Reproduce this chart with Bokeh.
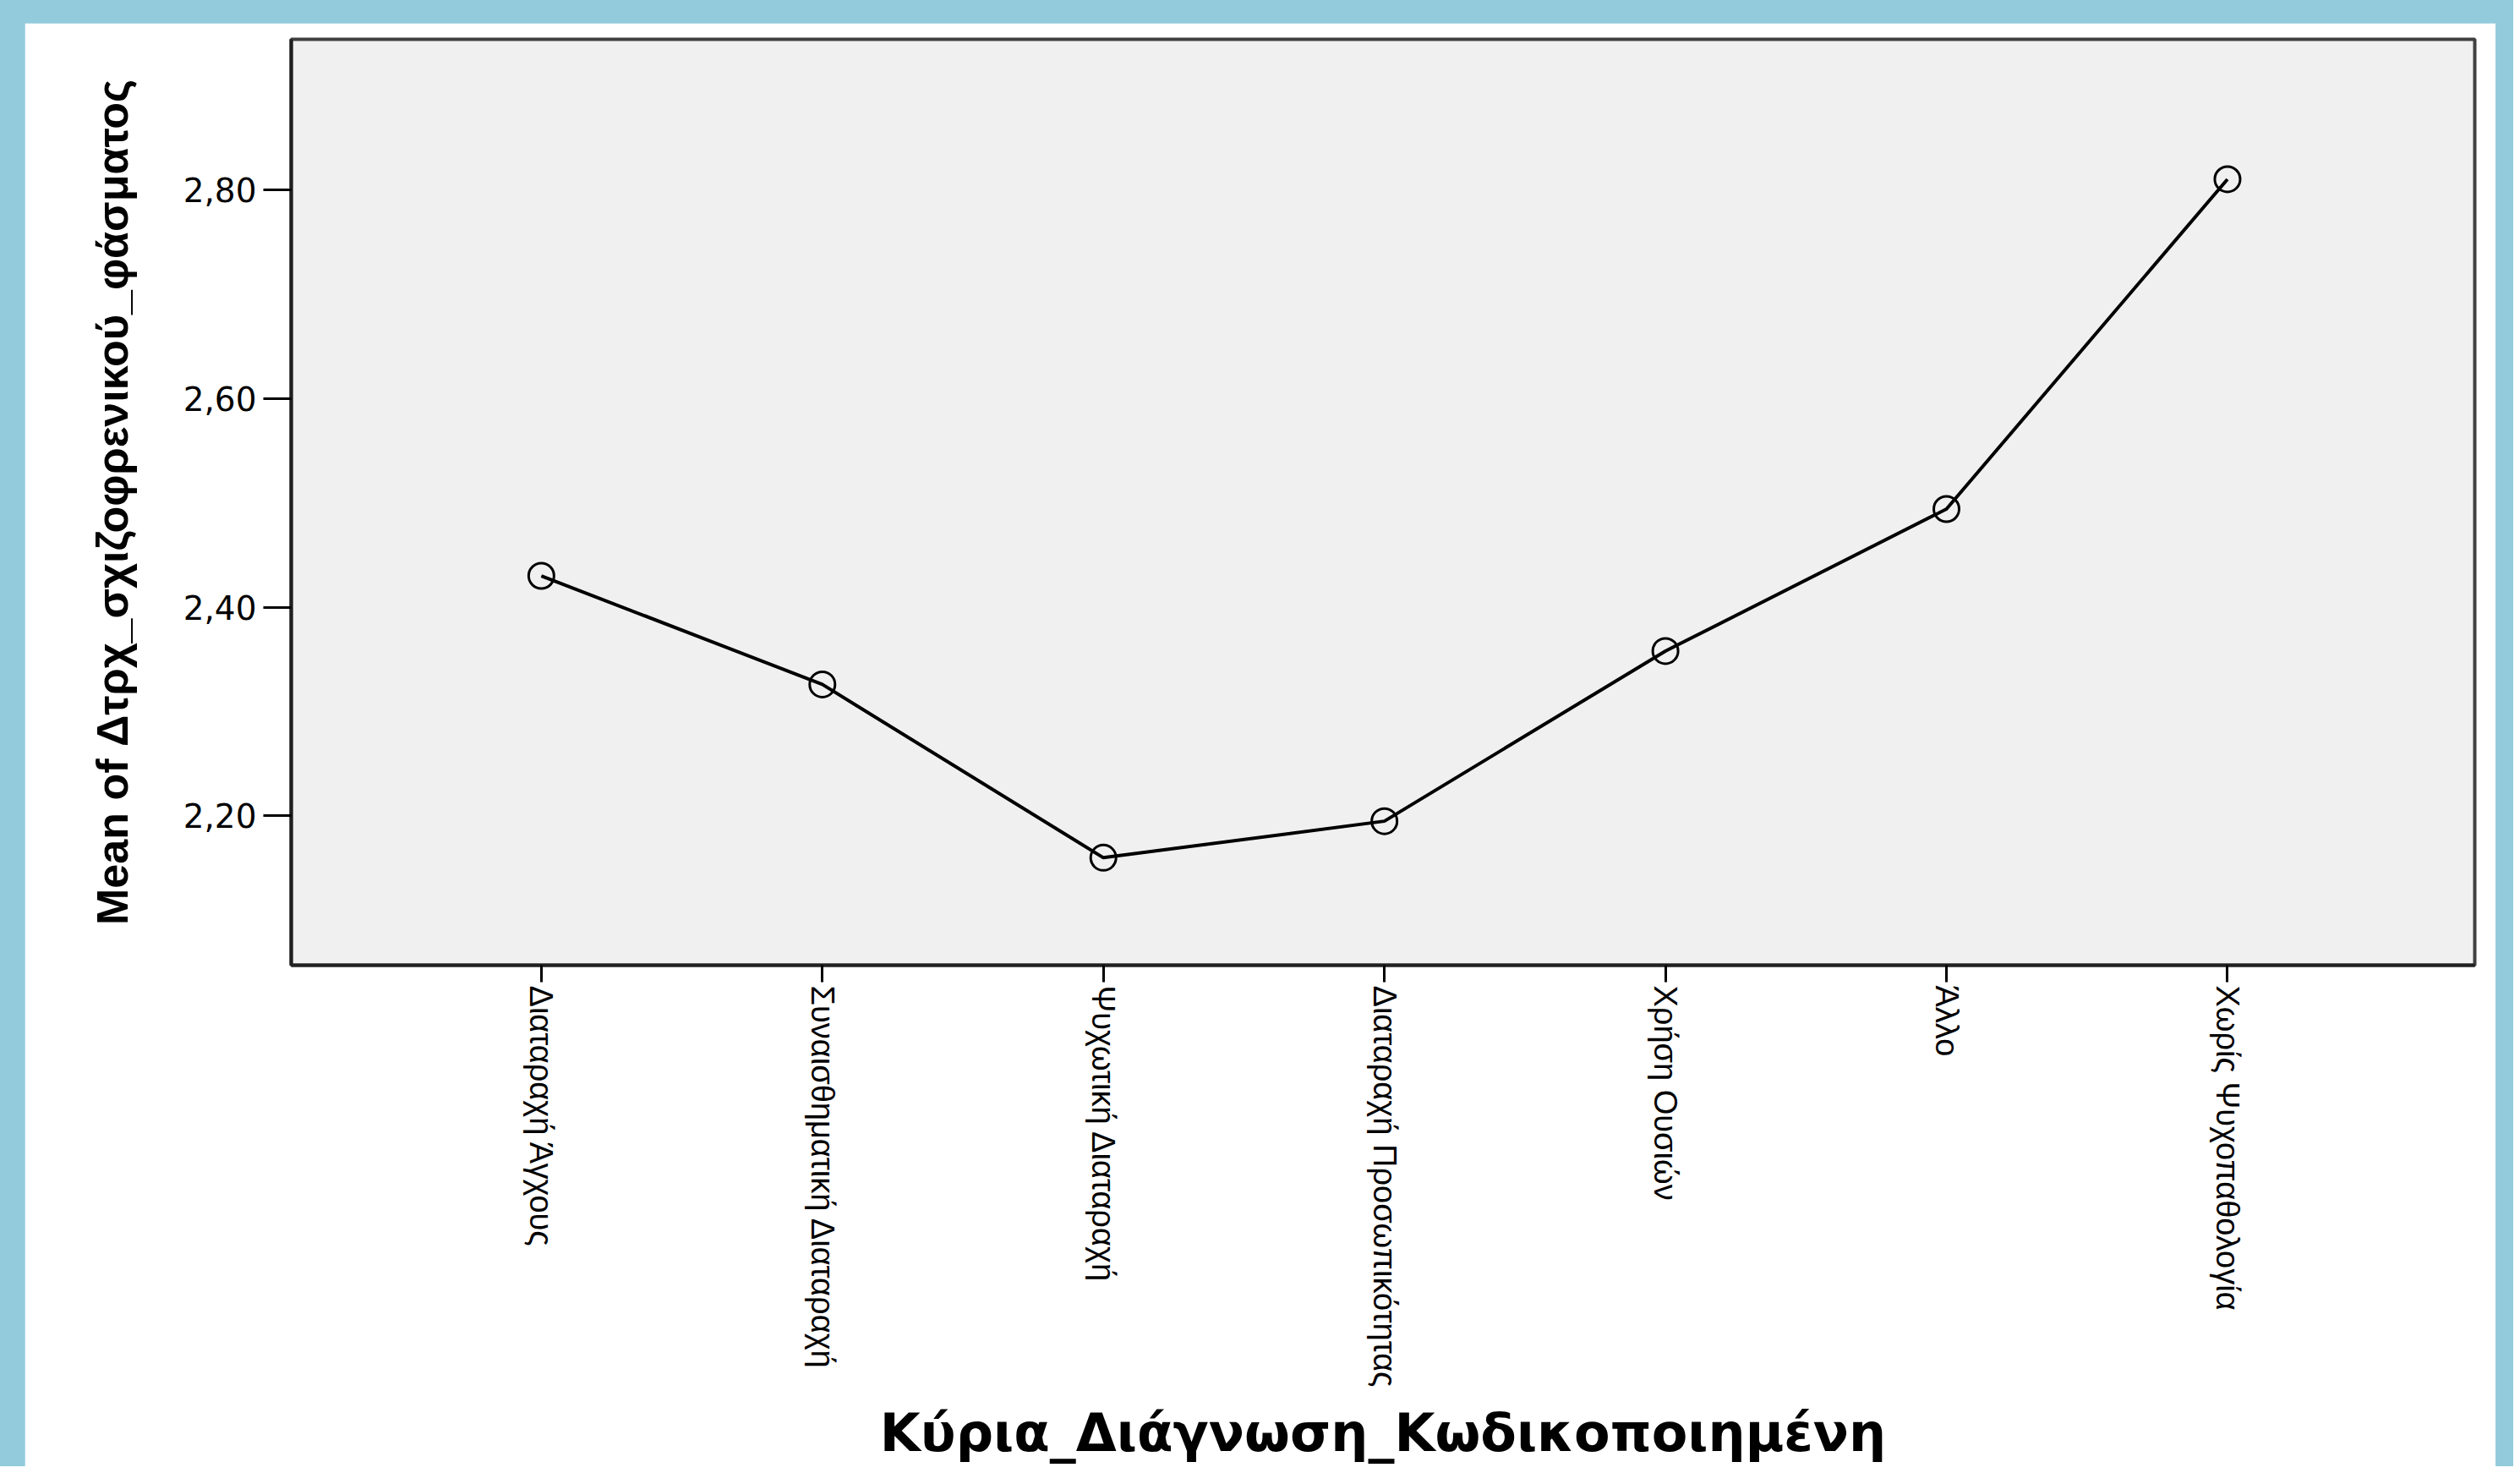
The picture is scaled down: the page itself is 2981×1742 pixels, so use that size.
import math
from bokeh.plotting import figure
from bokeh.models import Range1d, FixedTicker
from bokeh.layouts import column
from bokeh.embed import file_html
from bokeh.resources import INLINE

# ---- data ----
categories = [
    "Διαταραχή Άγχους",
    "Συναισθηματική Διαταραχή",
    "Ψυχωτική Διαταραχή",
    "Διαταραχή Προσωπικότητας",
    "Χρήση Ουσιών",
    "Άλλο",
    "Χωρίς Ψυχοπαθολογία",
]
means = [2.430, 2.326, 2.160, 2.195, 2.358, 2.494, 2.810]
y_ticks = [2.20, 2.40, 2.60, 2.80]
y_tick_labels = ["2,20", "2,40", "2,60", "2,80"]
x_title = "Κύρια_Διάγνωση_Κωδικοποιημένη"
y_title = "Mean of Δτρχ_σχιζοφρενικού_φάσματος"

x_pos = list(range(1, len(categories) + 1))

BLUE = "#93CBDC"

p = figure(
    width=2923, height=1707,
    x_range=Range1d(0.11, 7.88),
    y_range=Range1d(2.057, 2.944),
    output_backend="svg", toolbar_location=None,
    min_border_left=315, min_border_right=25,
    min_border_top=19, min_border_bottom=592,
    background_fill_color="#F0F0F0",
    border_fill_color="white",
    outline_line_color="#404040", outline_line_width=4,
)
p.grid.visible = False

p.line(x_pos, means, line_color="black", line_width=4)
p.scatter(x_pos, means, marker="circle", size=30, fill_color=None,
          line_color="black", line_width=3)

# x axis
xa = p.xaxis[0]
xa.ticker = FixedTicker(ticks=x_pos)
xa.major_label_overrides = {i: c for i, c in zip(x_pos, categories)}
xa.major_label_orientation = -math.pi / 2
xa.major_label_text_font = "Liberation Sans"
xa.major_label_text_font_size = "38px"
xa.major_label_text_color = "black"
xa.major_label_standoff = 4
xa.major_tick_out = 20
xa.major_tick_in = 0
xa.minor_tick_out = 0
xa.minor_tick_in = 0
xa.major_tick_line_width = 3
xa.major_tick_line_color = "black"
xa.axis_line_width = 4
xa.axis_line_color = "#202020"
xa.axis_label = x_title
xa.axis_label_text_font = "DejaVu Sans"
xa.axis_label_text_font_style = "bold"
xa.axis_label_text_font_size = "62px"
xa.axis_label_text_color = "black"
xa.axis_label_standoff = 15

# y axis
ya = p.yaxis[0]
ya.ticker = FixedTicker(ticks=y_ticks)
ya.major_label_overrides = {t: l for t, l in zip(y_ticks, y_tick_labels)}
ya.major_label_text_font = "DejaVu Sans"
ya.major_label_text_font_size = "39px"
ya.major_label_text_color = "black"
ya.major_label_standoff = 8
ya.major_tick_out = 33
ya.major_tick_in = 0
ya.minor_tick_out = 0
ya.minor_tick_in = 0
ya.major_tick_line_width = 3
ya.major_tick_line_color = "black"
ya.axis_line_width = 4
ya.axis_line_color = "#202020"
ya.axis_label = y_title
ya.axis_label_text_font = "Liberation Sans"
ya.axis_label_text_font_style = "bold"
ya.axis_label_text_font_size = "52px"
ya.axis_label_text_color = "black"
ya.axis_label_standoff = 52

layout = column(p, styles={"background-color": BLUE, "padding": "27px 21px 0px 29px"})

open("out.html", "w").write(file_html(layout, INLINE))
